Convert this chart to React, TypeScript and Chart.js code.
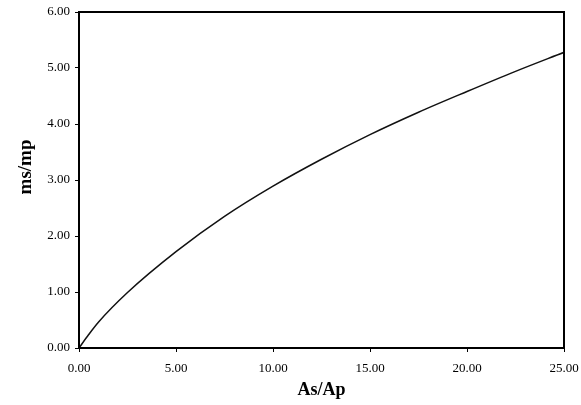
import React, { useEffect, useRef } from "react";
import { Chart, registerables } from "chart.js";

Chart.register(...registerables);

const xValues = [0, 0.5, 1, 2.5, 5, 7.5, 10, 12.5, 15, 17.5, 20, 22.5, 25];
const yValues = [0, 0.24, 0.46, 0.99, 1.72, 2.35, 2.89, 3.37, 3.81, 4.21, 4.58, 4.94, 5.28];
const xTitle = "As/Ap";
const yTitle = "ms/mp";

const serif = "'Liberation Serif', 'Times New Roman', serif";

const frame = {
  id: "frame",
  afterDraw(chart: any) {
    const { ctx, chartArea } = chart;
    ctx.save();
    ctx.strokeStyle = "#000";
    ctx.lineWidth = 2;
    ctx.strokeRect(chartArea.left, chartArea.top, chartArea.right - chartArea.left, chartArea.bottom - chartArea.top);
    // y-axis title
    ctx.translate(26, 167);
    ctx.rotate(-Math.PI / 2);
    ctx.fillStyle = "#000";
    ctx.font = `bold 19px ${serif}`;
    ctx.textAlign = "center";
    ctx.textBaseline = "middle";
    ctx.fillText(yTitle, 0, 0);
    ctx.restore();
  },
};

export default function App() {
  const ref = useRef<HTMLCanvasElement>(null);
  useEffect(() => {
    document.body.style.margin = "0";
    const data = xValues.map((x, i) => ({ x, y: yValues[i] }));
    const font = { family: serif, size: 13 };
    const chart = new Chart(ref.current!, {
      type: "line",
      data: {
        datasets: [
          {
            data,
            borderColor: "#111",
            borderWidth: 1.5,
            pointRadius: 0,
            cubicInterpolationMode: "monotone",
            fill: false,
          },
        ],
      },
      plugins: [frame],
      options: {
        animation: false,
        responsive: false,
        maintainAspectRatio: false,
        layout: { padding: { left: 0, right: 17, top: 12, bottom: 0 } },
        plugins: { legend: { display: false }, tooltip: { enabled: false } },
        scales: {
          x: {
            type: "linear",
            min: 0,
            max: 25,
            border: { color: "#000", width: 2 },
            grid: { display: true, drawOnChartArea: false, color: "#000", tickLength: 4 },
            ticks: { stepSize: 5, color: "#000", font, padding: 9, maxRotation: 0, callback: (v: any) => Number(v).toFixed(2) },
            title: {
              display: true,
              text: xTitle,
              color: "#000",
              font: { family: serif, size: 18, weight: "bold" },
              padding: { top: 0, bottom: 4 },
            },
            afterFit: (s: any) => { s.height = 57; s.paddingLeft = 0; s.paddingRight = 0; },
          },
          y: {
            min: 0,
            max: 6,
            border: { color: "#000", width: 2 },
            grid: { display: true, drawOnChartArea: false, color: "#000", tickLength: 4 },
            ticks: { stepSize: 1, color: "#000", font, padding: 5, callback: (v: any) => Number(v).toFixed(2) },
            title: { display: false },
            afterFit: (s: any) => { s.width = 79; s.paddingTop = 0; s.paddingBottom = 0; },
          },
        },
      },
    } as any);
    return () => chart.destroy();
  }, []);
  return (
    <div style={{ position: "fixed", left: 0, top: 0, width: 581, height: 405, background: "#fff" }}>
      <canvas ref={ref} width={581} height={405} style={{ width: 581, height: 405 }} />
    </div>
  );
}
